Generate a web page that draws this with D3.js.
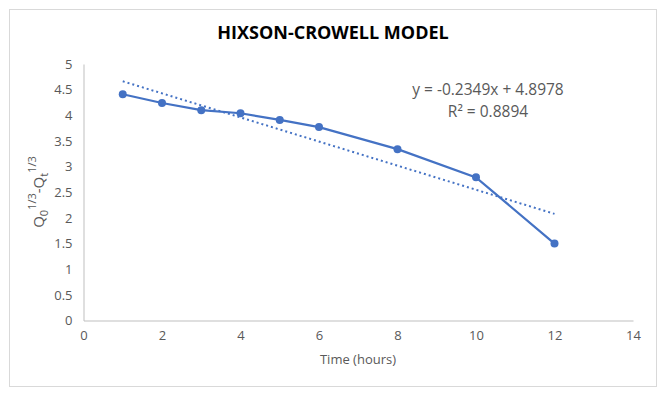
<!DOCTYPE html>
<html><head><meta charset="utf-8">
<script src="https://cdn.jsdelivr.net/npm/d3@7"></script>
<style>body{margin:0;background:#fff;font-family:"Open Sans",sans-serif;}</style>
</head><body>
<script>
const timeHours = [1, 2, 3, 4, 5, 6, 8, 10, 12];
const cubeRootDiff = [4.41, 4.24, 4.10, 4.04, 3.91, 3.77, 3.34, 2.79, 1.50];
const trendSlope = -0.2349;
const trendIntercept = 4.8978;
const rSquared = 0.8894;
const xTicks = [0, 2, 4, 6, 8, 10, 12, 14];
const yTicks = [0, 0.5, 1, 1.5, 2, 2.5, 3, 3.5, 4, 4.5, 5];

const W = 666, H = 399;
const svg = d3.select("body").append("svg").attr("width", W).attr("height", H);
svg.append("rect").attr("x", 9.5).attr("y", 9.5).attr("width", 647).attr("height", 377)
  .attr("fill", "#fff").attr("stroke", "#d9d9d9");

const x = d3.scaleLinear().domain([0, 14]).range([83.5, 633]);
const y = d3.scaleLinear().domain([0, 5]).range([320.5, 64]);
const textCol = "#595959";

svg.append("text").attr("x", 333).attr("y", 39).attr("text-anchor", "middle")
  .attr("font-size", 18).attr("font-weight", "bold").attr("fill", "#000")
  .text("HIXSON-CROWELL MODEL");

const xAxis = svg.append("g").attr("transform", `translate(0,${y(0)})`)
  .call(d3.axisBottom(x).tickValues(xTicks).tickSize(0).tickPadding(10).tickFormat(d3.format("d")));
xAxis.select(".domain").attr("stroke", "#bfbfbf");
xAxis.selectAll("text").attr("fill", textCol).attr("font-size", 13).attr("font-family", "Open Sans");

const yAxis = svg.append("g").attr("transform", `translate(${x(0)},0)`)
  .call(d3.axisLeft(y).tickValues(yTicks).tickSize(0).tickPadding(11).tickFormat(d => String(d)));
yAxis.select(".domain").attr("stroke", "#bfbfbf");
yAxis.selectAll("text").attr("fill", textCol).attr("font-size", 13).attr("font-family", "Open Sans");

svg.append("text").attr("x", 358).attr("y", 364).attr("text-anchor", "middle")
  .attr("font-size", 13).attr("fill", textCol).text("Time (hours)");

const yl = svg.append("text").attr("transform", "translate(44,192) rotate(-90)")
  .attr("text-anchor", "middle").attr("font-size", 15).attr("fill", textCol);
yl.append("tspan").text("Q");
yl.append("tspan").attr("font-size", 11).attr("dy", 4).text("0");
yl.append("tspan").attr("font-size", 11).attr("dy", -12).text("1/3");
yl.append("tspan").attr("dy", 8).text("-Q");
yl.append("tspan").attr("font-size", 11).attr("dy", 4).text("t");
yl.append("tspan").attr("font-size", 11).attr("dy", -12).text("1/3");

const data = timeHours.map((t, i) => ({t, v: cubeRootDiff[i]}));
const color = "#4472c4";

const tx = d3.extent(timeHours);
svg.append("path").datum(tx.map(t => ({t, v: trendIntercept + trendSlope * t})))
  .attr("d", d3.line().x(d => x(d.t)).y(d => y(d.v)))
  .attr("fill", "none").attr("stroke", color).attr("stroke-width", 2).attr("stroke-dasharray", "2,3");

svg.append("path").datum(data)
  .attr("d", d3.line().x(d => x(d.t)).y(d => y(d.v)))
  .attr("fill", "none").attr("stroke", color).attr("stroke-width", 2.25);

svg.selectAll("circle.pt").data(data).join("circle").attr("class", "pt")
  .attr("cx", d => x(d.t)).attr("cy", d => y(d.v)).attr("r", 4).attr("fill", color);

svg.append("text").attr("x", 488).attr("y", 95).attr("text-anchor", "middle")
  .attr("font-size", 15.5).attr("fill", textCol)
  .text(`y = ${trendSlope}x + ${trendIntercept}`);
svg.append("text").attr("x", 488).attr("y", 117).attr("text-anchor", "middle")
  .attr("font-size", 15.5).attr("fill", textCol)
  .text(`R² = ${rSquared}`);
</script>
</body></html>
